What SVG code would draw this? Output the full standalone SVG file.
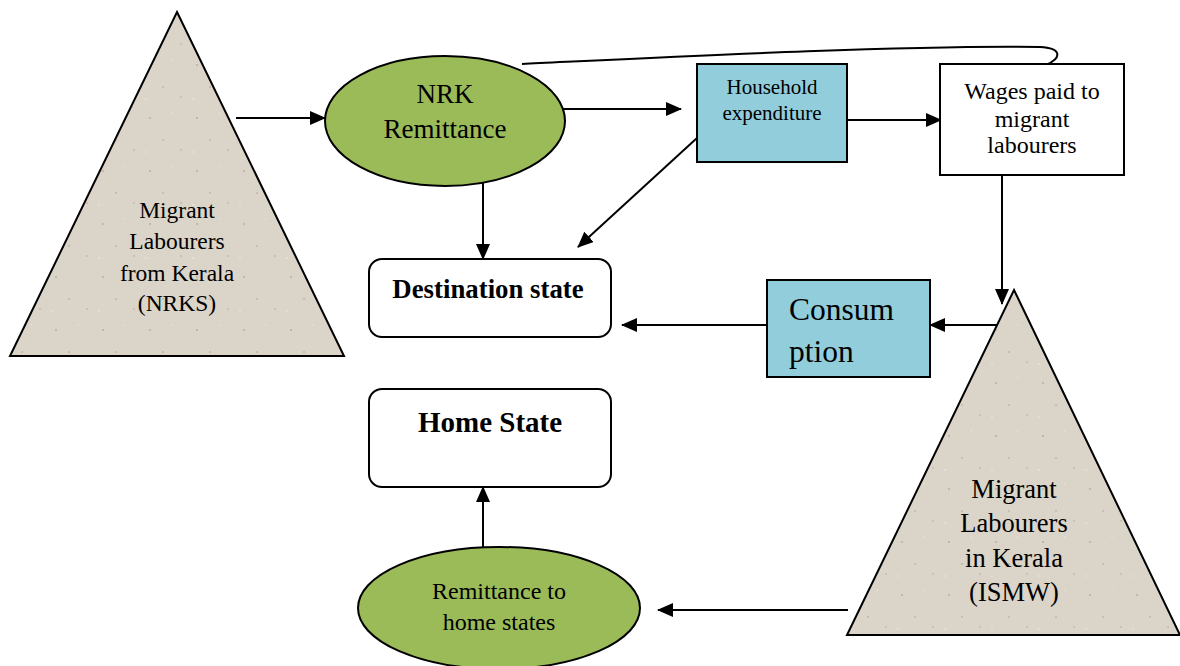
<svg xmlns="http://www.w3.org/2000/svg" width="1180" height="666" viewBox="0 0 1180 666">
<style>
text{font-family:"Liberation Serif","Times New Roman",serif;fill:#000;text-anchor:middle}
.tri{fill:url(#speck);stroke:#000;stroke-width:2}
.ell{fill:#9BBB59;stroke:#000;stroke-width:2}
.blue{fill:#92CDDC;stroke:#000;stroke-width:2}
.box{fill:#fff;stroke:#000;stroke-width:2}
.c{fill:none;stroke:#000;stroke-width:2}
.b{font-weight:bold}
</style>
<defs>
<marker id="ah" markerUnits="userSpaceOnUse" markerWidth="16" markerHeight="14" refX="15" refY="7" orient="auto">
<path d="M0,0 L16,7 L0,14 Z" fill="#000"/>
</marker>
<pattern id="speck" patternUnits="userSpaceOnUse" width="47" height="53">
<rect width="47" height="53" fill="#DBD4C8"/>
<circle cx="9" cy="12" r="1" fill="#B9B0A3"/>
<circle cx="31" cy="7" r="0.8" fill="#EAE5DC"/>
<circle cx="22" cy="34" r="1.1" fill="#C2B9AC"/>
<circle cx="40" cy="44" r="0.8" fill="#B3AA9D"/>
<circle cx="5" cy="46" r="0.9" fill="#E8E2D8"/>
</pattern>
</defs>
<rect width="1180" height="666" fill="#fff"/>
<g id="connectors">
<line class="c" x1="236" y1="118" x2="325" y2="118" marker-end="url(#ah)"/>
<line class="c" x1="556" y1="109" x2="681" y2="109" marker-end="url(#ah)"/>
<line class="c" x1="848" y1="120" x2="941" y2="120" marker-end="url(#ah)"/>
<path class="c" d="M522 64 C650 58 900 45 1040 47 C1062 48 1062 58 1046 65"/>
<line class="c" x1="697" y1="138" x2="578" y2="247" marker-end="url(#ah)"/>
<line class="c" x1="483" y1="175" x2="483" y2="259" marker-end="url(#ah)"/>
<line class="c" x1="1002" y1="176" x2="1002" y2="304" marker-end="url(#ah)"/>
<line class="c" x1="1000" y1="325" x2="930" y2="325" marker-end="url(#ah)"/>
<line class="c" x1="768" y1="325" x2="622" y2="325" marker-end="url(#ah)"/>
<line class="c" x1="848" y1="610" x2="658" y2="610" marker-end="url(#ah)"/>
<line class="c" x1="483" y1="547" x2="483" y2="487" marker-end="url(#ah)"/>
</g>
<g id="nrks">
<polygon class="tri" points="177,12 344,356 10,356"/>
<text font-size="23.5"><tspan x="177" y="218">Migrant</tspan><tspan x="177" y="249">Labourers</tspan><tspan x="177" y="281">from Kerala</tspan><tspan x="177" y="311">(NRKS)</tspan></text>
</g>
<g id="nrk-remittance">
<ellipse class="ell" cx="445" cy="121" rx="120" ry="65"/>
<text font-size="27"><tspan x="445" y="103">NRK</tspan><tspan x="445" y="138">Remittance</tspan></text>
</g>
<g id="household">
<rect class="blue" x="697" y="64" width="150" height="98"/>
<text font-size="21"><tspan x="772" y="94">Household</tspan><tspan x="772" y="120">expenditure</tspan></text>
</g>
<g id="wages">
<rect class="box" x="940" y="64" width="184" height="111"/>
<text font-size="24"><tspan x="1032" y="99">Wages paid to</tspan><tspan x="1032" y="127">migrant</tspan><tspan x="1032" y="153">labourers</tspan></text>
</g>
<g id="destination">
<rect class="box" x="369" y="259" width="242" height="78" rx="13"/>
<text class="b" font-size="26.8" x="488" y="298">Destination state</text>
</g>
<g id="consumption">
<rect class="blue" x="767" y="280" width="163" height="97"/>
<text font-size="31.5" style="text-anchor:start"><tspan x="789" y="320">Consum</tspan><tspan x="789" y="362">ption</tspan></text>
</g>
<g id="ismw">
<polygon class="tri" points="1014,290 1180,635 847,635"/>
<text font-size="26.5"><tspan x="1014" y="498">Migrant</tspan><tspan x="1014" y="532">Labourers</tspan><tspan x="1014" y="567">in Kerala</tspan><tspan x="1014" y="601">(ISMW)</tspan></text>
</g>
<g id="home-state">
<rect class="box" x="369" y="389" width="242" height="98" rx="13"/>
<text class="b" font-size="29" x="490" y="432">Home State</text>
</g>
<g id="remittance-home">
<ellipse class="ell" cx="499" cy="608" rx="141" ry="61"/>
<text font-size="24"><tspan x="499" y="599">Remittance to</tspan><tspan x="499" y="630">home states</tspan></text>
</g>
</svg>
